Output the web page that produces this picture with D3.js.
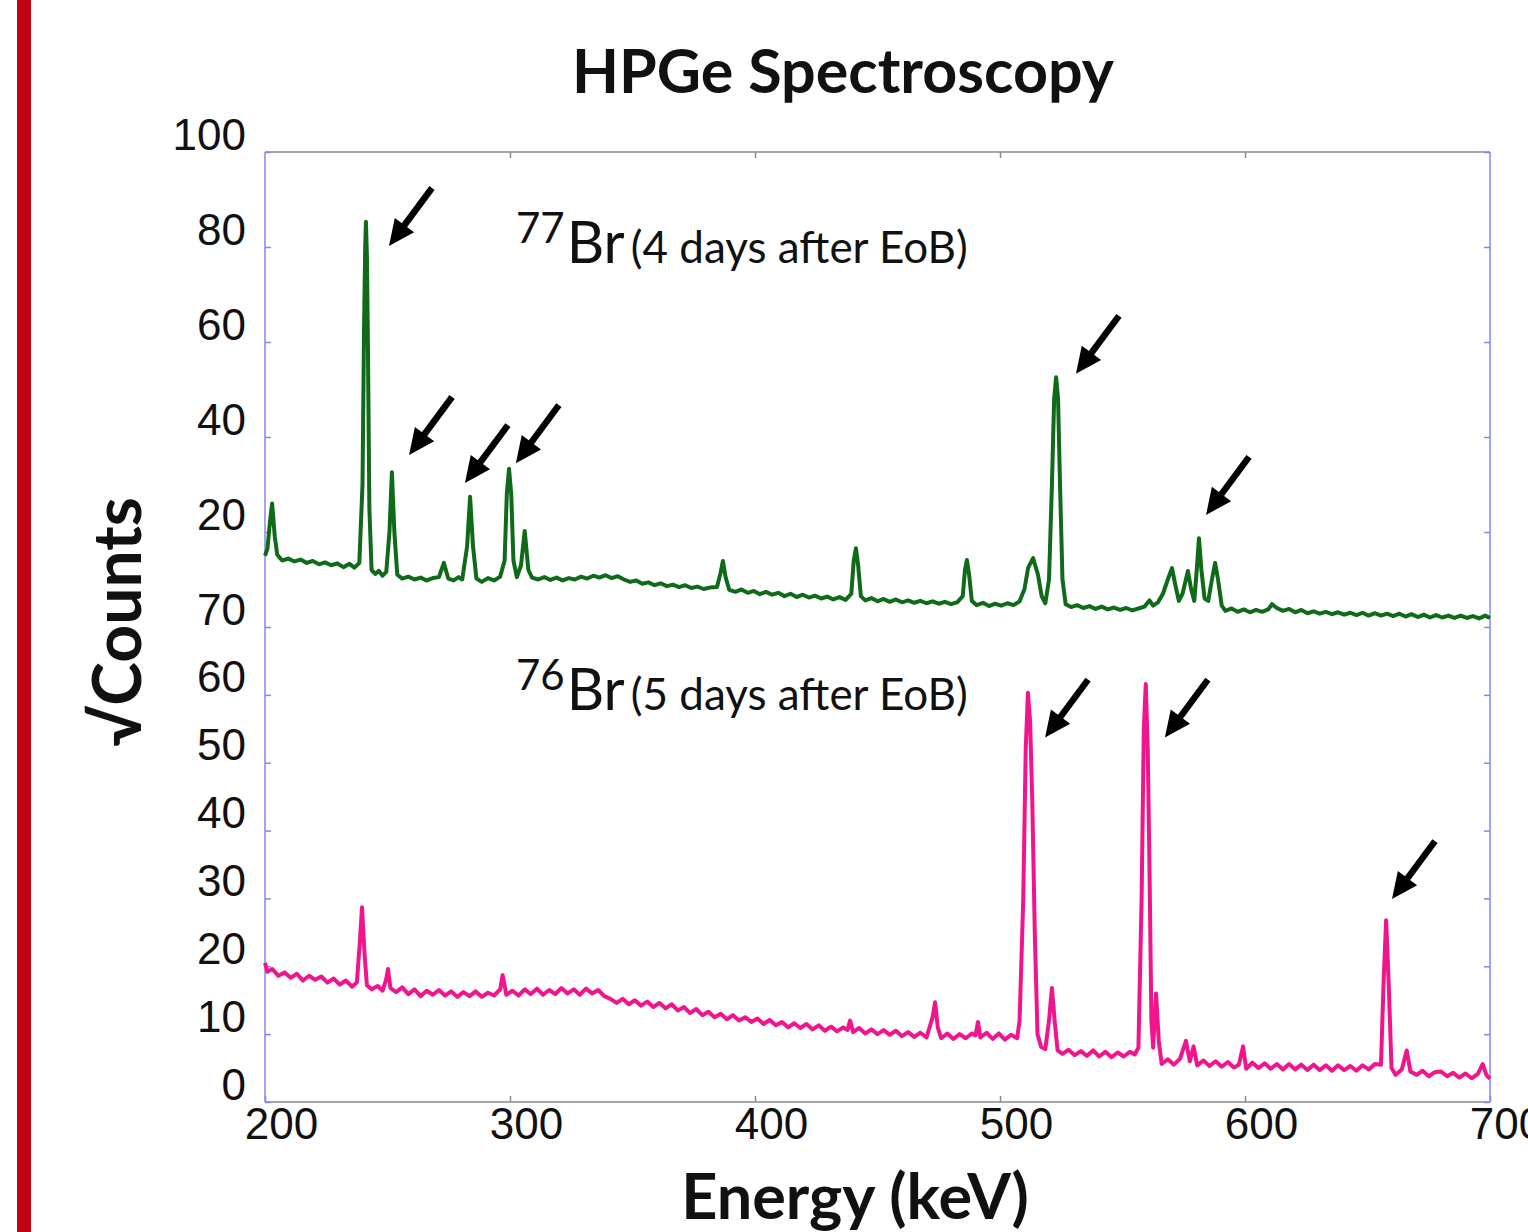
<!DOCTYPE html>
<html lang="en">
<head>
<meta charset="UTF-8">
<title>HPGe Spectroscopy</title>
<script src="https://cdn.jsdelivr.net/npm/d3@7"></script>
<style>
  body { margin: 0; background: #fff; }
  svg { display: block; }
</style>
</head>
<body>
<div id="chart"></div>
<script>
// x axis (energy, keV)
var energyTicks = [200, 300, 400, 500, 600, 700];
// tick labels on the left: upper panel / lower panel
var topTicks = [20, 40, 60, 80, 100];
var bottomTicks = [0, 10, 20, 30, 40, 50, 60, 70];

// 77Br spectrum, upper panel: [energy keV, sqrt counts]
var br77 = [
  [200,15.0],[201,16.5],[202,22],[202.9,26],[204,19],[205,15.2],[207,14.0],[209.5,14.4],[212,13.8],[214.5,14.2],
  [217,13.5],[219.5,13.9],[222,13.2],[224.5,13.6],[227,13.0],[229.5,13.4],[232,12.6],[234.5,13.3],[236.5,12.5],[238.5,13.5],
  [239.8,30],[240.4,62],[240.9,80],[241.2,85.3],[241.6,78],[242,60],[242.6,25],[243.5,12],[245,11.2],[246.5,11.8],
  [248,10.8],[249.5,11.6],[250.8,20],[251.8,32.6],[252.8,20],[254,11],[256,10.2],[258.5,10.6],[261,10.0],[263.5,10.4],
  [266,9.8],[268.5,10.3],[271,10.5],[273,13.5],[274.8,10.2],[277,9.8],[279,10.5],[280.5,10.0],[282.5,17],[283.7,27.4],
  [284.9,17],[286.3,10.2],[288.5,9.5],[291,10.3],[293.5,9.8],[296,10.6],[297.8,14],[298.7,28],[299.6,33.3],[300.5,28],
  [301.4,14],[302.8,10.5],[304.5,13],[306,20.2],[307.5,12],[309,10.4],[311.5,10.0],[314,10.5],[316.5,9.9],[319,10.4],
  [321.5,9.8],[324,10.3],[326.5,10.0],[329,10.6],[331.5,10.2],[334,10.8],[336.5,10.4],[339,10.9],[341.5,10.3],[344,10.7],
  [346.5,10.0],[349,9.5],[351.5,9.8],[354,9.1],[356.5,9.4],[359,8.8],[361.5,9.2],[364,8.6],[366.5,8.9],[369,8.4],
  [371.5,8.8],[374,8.2],[376.5,8.5],[379,8.0],[381.5,8.3],[384.5,8.4],[386,11.5],[386.9,13.9],[388,10.5],[389.5,7.8],
  [392,7.4],[394.5,7.9],[397,7.2],[399.5,7.6],[402,6.9],[404.5,7.4],[407,6.8],[409.5,7.2],[412,6.5],[414.5,7.0],
  [417,6.3],[419.5,6.8],[422,6.2],[424.5,6.6],[427,6.0],[429.5,6.4],[432,5.8],[434.5,6.3],[437,5.7],[439.3,7],
  [440.3,14],[441.2,16.6],[442.1,13],[443.2,6.5],[445,5.6],[447.5,6.1],[450,5.4],[452.5,5.9],[455,5.3],[457.5,5.8],
  [460,5.2],[462.5,5.6],[465,5.1],[467.5,5.5],[470,5.0],[472.5,5.4],[475,4.9],[477.5,5.3],[480,4.8],[482.5,5.2],
  [484.8,6.5],[485.7,12],[486.5,14.1],[487.4,11],[488.5,5.5],[490.5,4.6],[493,5.1],[495.5,4.4],[498,4.9],[500.5,4.5],
  [503,5.0],[505.5,4.6],[508,5.4],[510,8],[511.5,12.5],[513.5,14.5],[515.5,11],[517,6.5],[518.5,5.0],[520,10],
  [521.2,30],[522.1,48],[522.9,52.6],[523.7,48],[524.5,30],[525.5,10],[526.8,4.8],[529,4.2],[531.5,4.6],[534,4.0],
  [536.5,4.4],[539,3.8],[541.5,4.3],[544,3.7],[546.5,4.1],[549,3.6],[551.5,4.0],[554,3.5],[556.5,3.9],[559,4.3],
  [561,5.6],[562.5,4.5],[564.5,5.2],[566.5,7],[568.5,10],[570.2,12.4],[571.5,9],[573,5.5],[574.5,7],[576.7,11.8],
  [578,8],[579.3,5.5],[580.3,12],[581.2,18.7],[582.2,12],[583.5,6],[585,5.5],[586.5,10],[587.8,13.5],[589,10],
  [590.5,4.5],[592,3.4],[594.5,3.9],[597,3.2],[599.5,3.7],[602,3.1],[604.5,3.6],[607,3.2],[609.5,3.7],[611,4.8],
  [613,4.0],[615.5,3.4],[618,3.8],[620.5,3.1],[623,3.6],[625.5,2.9],[628,3.3],[630.5,2.8],[633,3.2],[635.5,2.7],
  [638,3.1],[640.5,2.6],[643,3.0],[645.5,2.5],[648,3.0],[650.5,2.4],[653,2.9],[655.5,2.4],[658,2.8],[660.5,2.3],
  [663,2.8],[665.5,2.2],[668,2.7],[670.5,2.1],[673,2.6],[675.5,2.0],[678,2.5],[680.5,2.0],[683,2.4],[685.5,1.9],
  [688,2.4],[690.5,1.9],[693,2.3],[695.5,1.8],[698,2.4],[700,1.9]
];

// 76Br spectrum, lower panel: [energy keV, sqrt counts]
var br76 = [
  [200,20.5],[201,19.2],[203,19.6],[205.5,18.6],[208,19.1],[210.5,18.3],[213,18.9],[215.5,17.9],[218,18.6],[220.5,18.0],
  [223,18.5],[225.5,17.6],[228,18.2],[230.5,17.3],[233,17.9],[235.5,17.0],[237.5,17.6],[238.6,23],[239.6,28.7],[240.6,22],
  [241.6,17.2],[243.5,16.6],[246,17.1],[248,16.4],[249.4,18],[250.2,19.6],[251.2,16.8],[253.5,16.2],[256,16.9],[258.5,15.9],
  [261,16.6],[263.5,15.6],[266,16.4],[268.5,15.8],[271,16.5],[273.5,15.7],[276,16.3],[278.5,15.5],[281,16.2],[283.5,15.6],
  [286,16.3],[288.5,15.5],[291,16.1],[293.5,15.7],[296,16.6],[297,18.7],[298.5,15.8],[301,16.4],[303.5,15.7],[306,16.6],
  [308.5,15.9],[311,16.7],[313.5,15.8],[316,16.5],[318.5,15.9],[321,16.8],[323.5,16.0],[326,16.6],[328.5,15.8],[331,16.7],
  [333.5,16.0],[336,16.5],[338.5,15.6],[341,15.2],[343.5,14.6],[346,15.2],[348.5,14.4],[351,15.0],[353.5,14.2],[356,14.8],
  [358.5,14.0],[361,14.6],[363.5,13.8],[366,14.4],[368.5,13.5],[371,14.0],[373.5,13.1],[376,13.7],[378.5,12.8],[381,13.3],
  [383.5,12.5],[386,13.0],[388.5,12.2],[391,12.8],[393.5,12.0],[396,12.5],[398.5,11.8],[401,12.3],[403.5,11.5],[406,12.1],
  [408.5,11.3],[411,11.8],[413.5,11.0],[416,11.6],[418.5,10.9],[421,11.5],[423.5,10.7],[426,11.3],[428.5,10.5],[431,11.1],
  [433.5,10.4],[436,11.0],[437.8,10.6],[438.8,12.0],[440,10.3],[442.5,10.9],[445,10.1],[447.5,10.7],[450,10.0],[452.5,10.6],
  [455,9.9],[457.5,10.5],[460,9.7],[462.5,10.3],[465,9.6],[467.5,10.2],[470,9.5],[472.5,12.5],[473.5,14.7],[474.6,11],
  [476,9.4],[478.5,10.1],[481,9.3],[483.5,10.0],[486,9.4],[488.5,10.1],[490,9.8],[491,11.8],[492,9.5],[494.5,10.2],
  [497,9.3],[499.5,10.1],[502,9.2],[504.5,9.9],[507,9.4],[508,12],[509.5,30],[510.5,52],[511.4,60.3],[512.3,56],
  [513.2,44],[514.2,25],[515.3,10],[516.8,8.1],[518.5,7.8],[520,12],[521.2,16.8],[522.3,12],[523.5,7.6],[525.5,7.1],
  [528,7.7],[530.5,6.9],[533,7.5],[535.5,6.8],[538,7.6],[540.5,6.7],[543,7.4],[545.5,6.6],[548,7.3],[550.5,6.7],
  [553,7.4],[555,7.0],[556.5,8],[557.8,30],[558.7,55],[559.5,61.6],[560.3,52],[561.0,35],[561.8,12],[562.5,8],
  [563.7,16],[564.8,9],[566,5.6],[568.5,6.3],[571,5.5],[573.5,6.4],[575.9,9.0],[577.5,6.0],[579,8.2],[580.5,5.4],
  [583,6.1],[585.5,5.3],[588,6.0],[590.5,5.2],[593,5.9],[595.5,5.1],[597.5,5.5],[599.2,8.2],[600.5,4.9],[603,5.8],
  [605.5,5.0],[608,5.7],[610.5,4.9],[613,5.6],[615.5,4.8],[618,5.6],[620.5,4.8],[623,5.5],[625.5,4.7],[628,5.5],
  [630.5,4.7],[633,5.4],[635.5,4.6],[638,5.4],[640.5,4.7],[643,5.3],[645.5,4.6],[648,5.4],[650.5,4.8],[653,5.6],
  [655.5,5.5],[656.6,18],[657.6,26.8],[658.6,18],[659.8,5.0],[661.5,4.0],[664,4.8],[666,7.6],[667.5,4.5],[670,4.0],
  [672.5,4.6],[675,3.8],[677.5,4.4],[680,4.5],[682.5,3.8],[685,4.3],[687.5,3.6],[690,4.2],[692.5,3.5],[695,4.1],
  [697,5.6],[698.5,4.0],[700,3.4]
];

// arrow tips: [energy keV, value] in the panel they point into
var arrowsTop = [[250.6,80.2],[258.8,36.2],[281.6,30.3],[302.4,34.5],[531.0,53.3],[584.1,23.6]];
var arrowsBottom = [[518.4,53.7],[567.3,53.7],[660.0,29.9]];

var W = 1528, H = 1232;
var plotLeft = 265, plotRight = 1490, plotTop = 152, plotMid = 627, plotBottom = 1102;

var svg = d3.select("#chart").append("svg")
    .attr("width", W)
    .attr("height", H);

svg.append("rect").attr("width", W).attr("height", H).attr("fill", "#fff");

// red bar on the left edge
svg.append("rect")
    .attr("x", 17).attr("y", 0)
    .attr("width", 14).attr("height", H)
    .attr("fill", "#c1040f");

var x = d3.scaleLinear().domain([200, 700]).range([plotLeft, plotRight]);
var yTop = d3.scaleLinear().domain([0, 100]).range([plotMid, plotTop]);
var yBot = d3.scaleLinear().domain([0, 70]).range([plotBottom, plotMid]);

var blue = "#8585f5", grey = "#8a8a8a";
var tickFont = "'Liberation Sans', Arial, sans-serif";
var textFont = "Lato, 'Open Sans', sans-serif";

// frame: top and bottom grey, sides blue
svg.append("line").attr("x1", plotLeft).attr("x2", plotRight).attr("y1", plotTop).attr("y2", plotTop)
    .attr("stroke", grey).attr("stroke-width", 1.5);
svg.append("line").attr("x1", plotLeft).attr("x2", plotRight).attr("y1", plotBottom).attr("y2", plotBottom)
    .attr("stroke", grey).attr("stroke-width", 1.5);

// bottom x axis with labels
var xAxis = svg.append("g")
    .attr("transform", "translate(0," + plotBottom + ")")
    .call(d3.axisBottom(x).tickValues(energyTicks).tickSizeInner(-6).tickSizeOuter(0));
xAxis.select(".domain").remove();
xAxis.selectAll("line").attr("stroke", grey).attr("stroke-width", 1.5);
xAxis.selectAll("text")
    .attr("y", 37).attr("dy", 0).attr("dx", 16)
    .style("font-family", tickFont).style("font-size", "44px").attr("fill", "#111");

// top x ticks, no labels
var xTopAxis = svg.append("g")
    .attr("transform", "translate(0," + plotTop + ")")
    .call(d3.axisTop(x).tickValues(energyTicks.slice(1, -1)).tickSizeInner(-6).tickSizeOuter(0).tickFormat(""));
xTopAxis.select(".domain").remove();
xTopAxis.selectAll("line").attr("stroke", grey).attr("stroke-width", 1.5);

// left y axes (two panels share one line)
function leftAxis(scale, values) {
  var g = svg.append("g")
      .attr("transform", "translate(" + plotLeft + ",0)")
      .call(d3.axisLeft(scale).tickValues(values).tickSizeInner(-6).tickSizeOuter(0).tickPadding(19));
  g.select(".domain").remove();
  g.selectAll("line").attr("stroke", blue).attr("stroke-width", 1.5);
  g.selectAll("text")
      .attr("dy", -3)
      .style("font-family", tickFont).style("font-size", "44px").attr("fill", "#111");
  return g;
}
leftAxis(yTop, topTicks);
leftAxis(yBot, bottomTicks);

function rightTicks(scale, values) {
  var g = svg.append("g")
      .attr("transform", "translate(" + plotRight + ",0)")
      .call(d3.axisRight(scale).tickValues(values).tickSizeInner(-6).tickSizeOuter(0).tickFormat(""));
  g.select(".domain").remove();
  g.selectAll("line").attr("stroke", blue).attr("stroke-width", 1.5);
}
rightTicks(yTop, topTicks);
rightTicks(yBot, bottomTicks);

svg.append("line").attr("x1", plotLeft).attr("x2", plotLeft).attr("y1", plotTop).attr("y2", plotBottom)
    .attr("stroke", blue).attr("stroke-width", 1.5);
svg.append("line").attr("x1", plotRight).attr("x2", plotRight).attr("y1", plotTop).attr("y2", plotBottom)
    .attr("stroke", blue).attr("stroke-width", 1.5);

// spectra
var lineTop = d3.line().x(function (d) { return x(d[0]); }).y(function (d) { return yTop(d[1]); });
var lineBot = d3.line().x(function (d) { return x(d[0]); }).y(function (d) { return yBot(d[1]); });

svg.append("path").datum(br77)
    .attr("d", lineTop)
    .attr("fill", "none").attr("stroke", "#0f6a1a").attr("stroke-width", 4)
    .attr("stroke-linejoin", "round");

svg.append("path").datum(br76)
    .attr("d", lineBot)
    .attr("fill", "none").attr("stroke", "#f0158c").attr("stroke-width", 4)
    .attr("stroke-linejoin", "round");

// arrows pointing down-left at the peaks
function drawArrow(tx, ty) {
  var dx = 43, dy = -58;
  var len = Math.sqrt(dx * dx + dy * dy);
  var ux = dx / len, uy = dy / len;        // from tip towards tail
  var px = -uy, py = ux;                   // perpendicular
  var headLen = 26, headHalf = 12;
  var bx = tx + ux * headLen, by = ty + uy * headLen;
  svg.append("line")
      .attr("x1", bx - ux * 2).attr("y1", by - uy * 2)
      .attr("x2", tx + dx).attr("y2", ty + dy)
      .attr("stroke", "#000").attr("stroke-width", 6.5);
  svg.append("path")
      .attr("d", "M" + tx + "," + ty +
        "L" + (bx + px * headHalf) + "," + (by + py * headHalf) +
        "L" + (bx - px * headHalf) + "," + (by - py * headHalf) + "Z")
      .attr("fill", "#000");
}
arrowsTop.forEach(function (a) { drawArrow(x(a[0]), yTop(a[1])); });
arrowsBottom.forEach(function (a) { drawArrow(x(a[0]), yBot(a[1])); });

// isotope labels
function isotopeLabel(mass, note, y) {
  var t = svg.append("text")
      .attr("x", 516).attr("y", y)
      .style("font-family", textFont).attr("fill", "#111");
  t.append("tspan").text(mass).style("font-size", "42px").attr("dy", -20);
  t.append("tspan").text("Br").style("font-size", "58px").attr("dy", 20).attr("dx", 2);
  t.append("tspan").text(note).style("font-size", "44px").attr("dx", 6);
}
isotopeLabel("77", "(4 days after EoB)", 263);
isotopeLabel("76", "(5 days after EoB)", 710);

// title and axis titles
svg.append("text")
    .attr("x", 843).attr("y", 93)
    .attr("text-anchor", "middle")
    .style("font-family", textFont).style("font-weight", "bold").style("font-size", "61px")
    .attr("fill", "#111")
    .text("HPGe Spectroscopy");

svg.append("text")
    .attr("x", 855).attr("y", 1219)
    .attr("text-anchor", "middle")
    .style("font-family", textFont).style("font-weight", "bold").style("font-size", "63px")
    .attr("fill", "#111")
    .text("Energy (keV)");

svg.append("text")
    .attr("transform", "translate(141,622) rotate(-90)")
    .attr("text-anchor", "middle")
    .style("font-family", textFont).style("font-weight", "bold").style("font-size", "66px")
    .attr("fill", "#111")
    .text("\u221ACounts");
</script>
</body>
</html>
